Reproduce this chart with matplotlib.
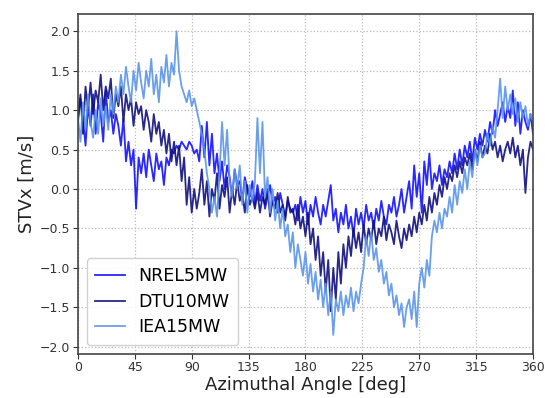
import numpy as np
import matplotlib
matplotlib.use("Agg")
import matplotlib.pyplot as plt

# STVx values [m/s], sampled every 2 deg from 0 to 360
nrel5mw = [
    0.85, 1.15, 0.9, 0.55, 1.05, 0.8, 1.2, 0.7, 1.1, 0.95, 0.6, 1.25, 0.85, 1.0, 0.7, 0.95,
    0.8, 0.55, 0.9, 0.35, 0.6, 0.3, 0.5, -0.25, 0.4, 0.2,
    0.45, 0.15, 0.5, 0.3, 0.1, 0.45, 0.25, 0.35, 0.05, 0.4, 0.3, 0.5,
    0.45, 0.55, 0.5, 0.6, 0.55, 0.5, 0.6, 0.55, 0.45, 0.5,
    0.35, 0.8, 0.4, 0.85, 0.3, 0.7,
    0.2, 0.45, 0.1, 0.35, 0.0, 0.3, 0.15, -0.1, 0.25, 0.05, 0.1, -0.15, 0.15, 0.0, -0.1, 0.1, -0.2,
    0.05, -0.15, 0.0, -0.25, -0.1, 0.05, -0.2, -0.1, -0.3, -0.05, -0.2, -0.35, -0.15, -0.25, -0.3,
    -0.2, -0.4, -0.1, -0.3, -0.15, -0.45, -0.2, -0.35, -0.1, -0.3, -0.45, -0.2, -0.35, -0.15, 0.05,
    -0.4, -0.25, -0.55, -0.3, -0.45, -0.2, -0.5, -0.35, -0.6, -0.25, -0.45, -0.3, -0.5, -0.2, -0.4,
    -0.3, -0.5, -0.25, -0.4, -0.15, -0.35, -0.45, -0.2, -0.3, -0.1, -0.35, -0.2, 0.0, -0.3, -0.1,
    0.1, -0.25, 0.3, -0.1, 0.2, -0.3, 0.35, 0.05, 0.45, 0.0, 0.2, 0.1, 0.3, 0.05, 0.25,
    0.15, 0.35, 0.2, 0.45, 0.25, 0.5, 0.3, 0.55, 0.4, 0.6, 0.35, 0.65, 0.5, 0.7, 0.55,
    0.75, 0.6, 0.85, 0.7, 1.0, 0.8, 0.95, 1.1, 0.85, 1.05, 0.9, 1.25, 0.8, 1.1, 0.7, 1.0, 0.85, 0.75, 0.95, 0.7,
]

dtu10mw = [
    0.9, 1.2, 0.7, 1.3, 1.0, 1.35, 0.95, 1.25, 1.1, 1.45, 1.0, 1.3, 1.15, 1.4, 0.9, 1.2,
    1.05, 1.3, 0.85, 1.2, 1.0, 1.15, 0.8, 1.1, 0.95, 1.05,
    0.75, 1.0, 0.85, 0.6, 0.95, 0.7, 0.85, 0.55, 0.75, 0.45, 0.7, 0.35,
    0.6, 0.3, 0.55, 0.1, 0.4, -0.2, 0.15, -0.3, 0.0, -0.25,
    -0.05, 0.25, -0.2, 0.1, -0.35, 0.0,
    -0.15, 0.2, -0.25, 0.05, -0.1, 0.15, -0.3, 0.0, -0.2, 0.1, -0.15, -0.05, -0.3, 0.05, -0.2, -0.1, -0.25,
    -0.05, -0.3, -0.1, -0.2, 0.0, -0.35, -0.15, -0.25, -0.05, -0.3, -0.2, -0.4, -0.1, -0.3, -0.25,
    -0.45, -0.2, -0.5, -0.35, -0.6, -0.3, -0.7, -0.5, -0.9, -0.6, -1.1, -0.8, -1.3, -0.9, -1.55,
    -1.0, -1.4, -0.8, -1.2, -0.7, -1.0, -0.6, -0.85, -0.5, -0.75, -0.55, -0.8, -0.45, -0.7, -0.5,
    -0.65, -0.4, -0.7, -0.5, -0.6, -0.35, -0.65, -0.45, -0.55, -0.7, -0.4, -0.6, -0.75, -0.5, -0.65,
    -0.45, -0.6, -0.35, -0.55, -0.3, -0.45, -0.2, -0.4, -0.1, -0.3, -0.05, -0.2, 0.05, -0.1, 0.15,
    0.0, 0.2, 0.1, 0.3, 0.15, 0.35, 0.2, 0.4, 0.3, 0.45, 0.25, 0.5, 0.35, 0.6, 0.4,
    0.55, 0.45, 0.7, 0.5, 0.6, 0.4, 0.55, 0.35, 0.5, 0.6, 0.45, 0.65, 0.4, 0.55, 0.3, 0.5, -0.05, 0.4, 0.6, 0.5,
]

iea15mw = [
    0.9, 0.6, 1.1, 0.75, 1.2, 0.85, 0.65, 1.0, 0.7, 1.15, 0.8, 1.05, 0.75, 1.2, 0.95, 1.3,
    1.1, 1.45, 1.2, 1.55, 1.3, 1.1, 1.5, 1.25, 1.6, 1.35,
    1.15, 1.5, 1.3, 1.65, 1.2, 1.45, 1.1, 1.55, 1.35, 1.7, 1.3, 1.6,
    1.45, 2.0, 1.5, 1.3, 1.2, 1.1, 1.25, 1.05, 1.15, 1.0,
    0.85, 0.7, 0.5, 0.2, 0.0, -0.3,
    -0.1, -0.35, 0.2, 0.85, 0.3, 0.75, 0.1, -0.1, 0.25, 0.0, 0.3, -0.2, 0.1, -0.3, 0.05, -0.15, 0.1,
    0.9, 0.2, 0.85, -0.1, 0.15, -0.3, 0.0, -0.4, -0.15, -0.5, -0.25, -0.6, -0.45, -0.8, -0.55,
    -1.0, -0.7, -0.9, -1.1, -0.8, -1.2, -0.95, -1.3, -1.05, -1.4, -1.15, -1.5, -1.2, -1.6, -1.3,
    -1.85, -1.4, -1.55, -1.3, -1.6, -1.35, -1.5, -1.25, -1.55, -1.3, -1.45, -1.2, -1.0, -0.6, -0.85,
    -0.55, -0.9, -0.75, -1.05, -0.9, -1.2, -1.05, -1.35, -1.2, -1.5, -1.35, -1.6, -1.45, -1.75, -1.5,
    -1.4, -1.65, -1.3, -1.75, -1.2, -1.0, -1.25, -0.9, -1.1, -0.6, -0.4, -0.55, -0.3, -0.5, -0.25,
    -0.35, -0.1, -0.3, 0.05, -0.2, 0.1, -0.05, 0.25, 0.0, 0.35, 0.15, 0.5, 0.3, 0.55, 0.4,
    0.45, 0.7, 0.55, 0.8, 0.65, 1.0, 1.4, 0.9, 1.3, 1.0, 1.2, 0.95, 1.15, 0.85, 1.1, 0.9, 1.05, 0.8, 0.95, 0.85,
]

series_names = ["NREL5MW", "DTU10MW", "IEA15MW"]
series_colors = ["#1010ff", "#10107e", "#5b95ea"]
xticks = [0, 45, 90, 135, 180, 225, 270, 315, 360]

fig = plt.figure(figsize=(5.45, 3.98), dpi=100)
ax = fig.add_axes([0.143, 0.111, 0.835, 0.854])

for vals, name, col in zip([nrel5mw, dtu10mw, iea15mw], series_names, series_colors):
    ang = np.linspace(0, 360, len(vals))
    ax.plot(ang, vals, color=col, lw=1.3, alpha=0.9, label=name)

ax.set_xlim(0, 360)
ax.set_ylim(-2.09, 2.22)
ax.set_xticks(xticks)
ax.set_yticks([-2.0, -1.5, -1.0, -0.5, 0.0, 0.5, 1.0, 1.5, 2.0])
ax.grid(True, linestyle=":", color="#bbbbbb", lw=0.9)
ax.tick_params(labelsize=9, colors="#333333", length=3.5, pad=2)
for s in ax.spines.values():
    s.set_color("#444444")
    s.set_linewidth(1.2)
ax.set_xlabel("Azimuthal Angle [deg]", fontsize=13, color="#222222", labelpad=1)
ax.set_ylabel("STVx [m/s]", fontsize=13, color="#222222", labelpad=3)
leg = ax.legend(loc="lower left", fontsize=12.5, framealpha=0.9, handlelength=1.7,
                borderpad=0.5, labelspacing=0.45)

fig.savefig("out.png", dpi=100)
